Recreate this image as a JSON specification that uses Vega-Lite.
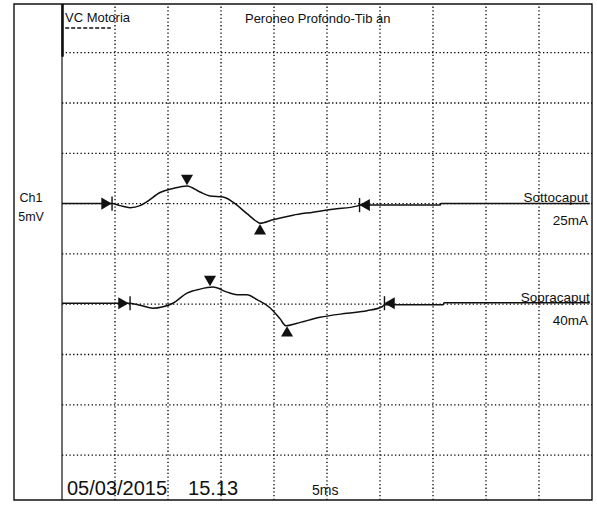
{
  "$schema": "https://vega.github.io/schema/vega-lite/v6.json",
  "width": 578,
  "height": 496,
  "autosize": {"type": "none"},
  "padding": {"left": 14, "top": 4, "right": 5, "bottom": 6},
  "background": "white",
  "config": {"view": {"stroke": null}, "font": "Liberation Sans"},
  "datasets": {
    "trace": [
      {"trace": "Sottocaput", "t": 0, "v": 30.0},
      {"trace": "Sottocaput", "t": 4.72, "v": 30.0},
      {"trace": "Sottocaput", "t": 5.47, "v": 29.8},
      {"trace": "Sottocaput", "t": 6.42, "v": 29.6},
      {"trace": "Sottocaput", "t": 7.36, "v": 29.8},
      {"trace": "Sottocaput", "t": 8.02, "v": 30.2},
      {"trace": "Sottocaput", "t": 9.25, "v": 31.1},
      {"trace": "Sottocaput", "t": 10.47, "v": 31.5},
      {"trace": "Sottocaput", "t": 11.79, "v": 31.75},
      {"trace": "Sottocaput", "t": 13.02, "v": 31.15},
      {"trace": "Sottocaput", "t": 13.96, "v": 30.75},
      {"trace": "Sottocaput", "t": 15.19, "v": 30.65},
      {"trace": "Sottocaput", "t": 16.13, "v": 30.15},
      {"trace": "Sottocaput", "t": 17.45, "v": 29.0},
      {"trace": "Sottocaput", "t": 18.4, "v": 28.2},
      {"trace": "Sottocaput", "t": 18.68, "v": 28.05},
      {"trace": "Sottocaput", "t": 19.9, "v": 28.4},
      {"trace": "Sottocaput", "t": 21.79, "v": 28.85},
      {"trace": "Sottocaput", "t": 23.68, "v": 29.15},
      {"trace": "Sottocaput", "t": 25.57, "v": 29.45},
      {"trace": "Sottocaput", "t": 27.83, "v": 29.75},
      {"trace": "Sottocaput", "t": 28.1, "v": 29.85},
      {"trace": "Sottocaput", "t": 35.66, "v": 29.85},
      {"trace": "Sottocaput", "t": 35.75, "v": 30.0},
      {"trace": "Sottocaput", "t": 49.8, "v": 30.0},
      {"trace": "Sopracaput", "t": 0, "v": 20.1},
      {"trace": "Sopracaput", "t": 6.23, "v": 20.1},
      {"trace": "Sopracaput", "t": 7.36, "v": 19.9},
      {"trace": "Sopracaput", "t": 8.58, "v": 19.6},
      {"trace": "Sopracaput", "t": 9.53, "v": 19.75},
      {"trace": "Sopracaput", "t": 10.47, "v": 20.1},
      {"trace": "Sopracaput", "t": 11.79, "v": 21.1},
      {"trace": "Sopracaput", "t": 13.02, "v": 21.5},
      {"trace": "Sopracaput", "t": 14.25, "v": 21.7},
      {"trace": "Sopracaput", "t": 15.57, "v": 21.2},
      {"trace": "Sopracaput", "t": 16.51, "v": 20.95},
      {"trace": "Sopracaput", "t": 17.45, "v": 20.95},
      {"trace": "Sopracaput", "t": 18.4, "v": 20.45},
      {"trace": "Sopracaput", "t": 19.62, "v": 19.65},
      {"trace": "Sopracaput", "t": 20.57, "v": 18.55},
      {"trace": "Sopracaput", "t": 21.13, "v": 17.85},
      {"trace": "Sopracaput", "t": 22.17, "v": 18.1},
      {"trace": "Sopracaput", "t": 24.34, "v": 18.7},
      {"trace": "Sopracaput", "t": 26.89, "v": 19.1},
      {"trace": "Sopracaput", "t": 28.77, "v": 19.35},
      {"trace": "Sopracaput", "t": 30.19, "v": 19.75},
      {"trace": "Sopracaput", "t": 30.47, "v": 19.95},
      {"trace": "Sopracaput", "t": 35.94, "v": 19.95},
      {"trace": "Sopracaput", "t": 36.04, "v": 20.15},
      {"trace": "Sopracaput", "t": 49.8, "v": 20.15}
    ],
    "markers": [
      {"trace": "Sottocaput", "kind": "start", "t": 4.2, "v": 30.0},
      {"trace": "Sottocaput", "kind": "peak", "t": 11.79, "v": 32.35},
      {"trace": "Sottocaput", "kind": "trough", "t": 18.68, "v": 27.45},
      {"trace": "Sottocaput", "kind": "end", "t": 28.55, "v": 29.86},
      {"trace": "Sopracaput", "kind": "start", "t": 5.8, "v": 20.1},
      {"trace": "Sopracaput", "kind": "peak", "t": 13.96, "v": 22.3},
      {"trace": "Sopracaput", "kind": "trough", "t": 21.23, "v": 17.3},
      {"trace": "Sopracaput", "kind": "end", "t": 30.9, "v": 20.1}
    ],
    "ticks": [
      {"t": 4.72, "v1": 30.7, "v2": 29.3},
      {"t": 28.07, "v1": 30.55, "v2": 29.15},
      {"t": 6.42, "v1": 20.8, "v2": 19.4},
      {"t": 30.42, "v1": 20.8, "v2": 19.4}
    ],
    "vgrid": [{"t": 5}, {"t": 10}, {"t": 15}, {"t": 20}, {"t": 25}, {"t": 30}, {"t": 35}, {"t": 40}, {"t": 45}],
    "hgrid": [{"v": 5}, {"v": 10}, {"v": 15}, {"v": 20}, {"v": 25}, {"v": 30}, {"v": 35}, {"v": 40}, {"v": 45}]
  },
  "encoding": {
    "x": {"type": "quantitative", "scale": {"domain": [-4.53, 50], "nice": false, "zero": false}, "axis": null},
    "y": {"type": "quantitative", "scale": {"domain": [0.54, 49.84], "nice": false, "zero": false}, "axis": null}
  },
  "layer": [
    {
      "data": {"name": "vgrid"},
      "mark": {"type": "rule", "stroke": "#000", "strokeWidth": 1.3, "strokeDash": [1.3, 2.4]},
      "encoding": {"x": {"field": "t", "type": "quantitative"}, "y": {"datum": 0.54}, "y2": {"datum": 49.84}}
    },
    {
      "data": {"name": "hgrid"},
      "mark": {"type": "rule", "stroke": "#000", "strokeWidth": 1.3, "strokeDash": [1.3, 2.4]},
      "encoding": {"y": {"field": "v", "type": "quantitative"}, "x": {"datum": 0}, "x2": {"datum": 50}}
    },
    {
      "data": {"values": [{"a": 1}]},
      "mark": {"type": "rect", "fill": null, "stroke": "#111", "strokeWidth": 1.4},
      "encoding": {"x": {"datum": -4.53}, "x2": {"datum": 50}, "y": {"datum": 0.54}, "y2": {"datum": 49.84}}
    },
    {
      "data": {"values": [{"a": 1}]},
      "mark": {"type": "rule", "stroke": "#111", "strokeWidth": 1.2},
      "encoding": {"x": {"datum": 0}, "y": {"datum": 0.54}, "y2": {"datum": 49.84}}
    },
    {
      "data": {"values": [{"a": 1}]},
      "mark": {"type": "rule", "stroke": "#111", "strokeWidth": 2.5},
      "encoding": {"x": {"datum": 0.05}, "y": {"datum": 44.6}, "y2": {"datum": 49.84}}
    },
    {
      "data": {"values": [{"a": 1}]},
      "mark": {"type": "rule", "stroke": "#111", "strokeWidth": 1.5, "strokeDash": [4, 2]},
      "encoding": {"x": {"datum": 0.3}, "x2": {"datum": 4.6}, "y": {"datum": 47.45}}
    },
    {
      "data": {"name": "trace"},
      "mark": {"type": "line", "stroke": "#111", "strokeWidth": 1.5, "interpolate": "monotone"},
      "encoding": {"x": {"field": "t", "type": "quantitative"}, "y": {"field": "v", "type": "quantitative"}, "detail": {"field": "trace"}}
    },
    {
      "data": {"name": "ticks"},
      "mark": {"type": "rule", "stroke": "#111", "strokeWidth": 1.4},
      "encoding": {"x": {"field": "t", "type": "quantitative"}, "y": {"field": "v1", "type": "quantitative"}, "y2": {"field": "v2"}}
    },
    {
      "data": {"name": "markers"},
      "mark": {"type": "point", "filled": true, "fill": "#111", "stroke": null, "size": 145, "opacity": 1},
      "encoding": {
        "x": {"field": "t", "type": "quantitative"},
        "y": {"field": "v", "type": "quantitative"},
        "shape": {"field": "kind", "type": "nominal", "legend": null, "scale": {"domain": ["start", "peak", "trough", "end"], "range": ["triangle-right", "triangle-down", "triangle-up", "triangle-left"]}}
      }
    },
    {
      "data": {"values": [
        {"label": "VC Motoria", "t": 0.28, "v": 48.05},
        {"label": "Peroneo Profondo-Tib an", "t": 17.26, "v": 47.95}
      ]},
      "mark": {"type": "text", "align": "left", "baseline": "alphabetic", "fontSize": 13, "color": "#111"},
      "encoding": {"x": {"field": "t", "type": "quantitative"}, "y": {"field": "v", "type": "quantitative"}, "text": {"field": "label"}}
    },
    {
      "data": {"values": [
        {"label": "Sottocaput", "t": 49.62, "v": 30.15},
        {"label": "25mA", "t": 49.62, "v": 27.9},
        {"label": "Sopracaput", "t": 49.8, "v": 20.25},
        {"label": "40mA", "t": 49.62, "v": 17.9}
      ]},
      "mark": {"type": "text", "align": "right", "baseline": "alphabetic", "fontSize": 13.5, "color": "#111"},
      "encoding": {"x": {"field": "t", "type": "quantitative"}, "y": {"field": "v", "type": "quantitative"}, "text": {"field": "label"}}
    },
    {
      "data": {"values": [
        {"label": "Ch1", "t": -2.92, "v": 30.2},
        {"label": "5mV", "t": -2.92, "v": 28.3}
      ]},
      "mark": {"type": "text", "align": "center", "baseline": "alphabetic", "fontSize": 12.5, "color": "#111"},
      "encoding": {"x": {"field": "t", "type": "quantitative"}, "y": {"field": "v", "type": "quantitative"}, "text": {"field": "label"}}
    },
    {
      "data": {"values": [
        {"label": "05/03/2015", "t": 0.47, "v": 1.0},
        {"label": "15.13", "t": 11.89, "v": 1.0}
      ]},
      "mark": {"type": "text", "align": "left", "baseline": "alphabetic", "fontSize": 20, "color": "#111"},
      "encoding": {"x": {"field": "t", "type": "quantitative"}, "y": {"field": "v", "type": "quantitative"}, "text": {"field": "label"}}
    },
    {
      "data": {"values": [{"label": "5ms", "t": 23.58, "v": 1.0}]},
      "mark": {"type": "text", "align": "left", "baseline": "alphabetic", "fontSize": 14, "color": "#111"},
      "encoding": {"x": {"field": "t", "type": "quantitative"}, "y": {"field": "v", "type": "quantitative"}, "text": {"field": "label"}}
    }
  ]
}
